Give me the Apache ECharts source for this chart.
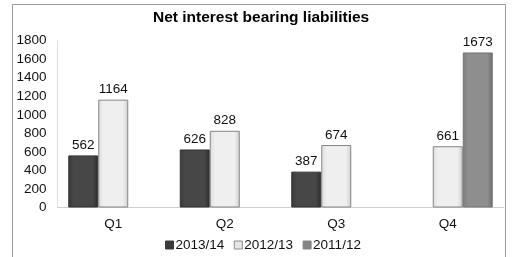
<!DOCTYPE html>
<html><head><meta charset="utf-8">
<script src="https://cdn.jsdelivr.net/npm/echarts@6/dist/echarts.min.js"></script>
<style>html,body{margin:0;padding:0;background:#fff}#c{width:512px;height:257px}</style>
</head><body><div id="c"></div>
<script>
const categories = ['Q1', 'Q2', 'Q3', 'Q4'];
const s2013 = [562, 626, 387, null];
const s2012 = [1164, 828, 674, 661];
const s2011 = [null, null, null, 1673];
const seriesNames = ['2013/14', '2012/13', '2011/12'];
const yTicks = [0, 200, 400, 600, 800, 1000, 1200, 1400, 1600, 1800];

function grad(edge, mid, edge2) {
  return new echarts.graphic.LinearGradient(0, 0, 1, 0, [
    {offset: 0, color: edge}, {offset: 0.18, color: mid}, {offset: 0.82, color: mid}, {offset: 1, color: edge2}
  ]);
}
const styles = [
  {color: grad('#3a3a3a', '#474747', '#2c2c2c'), borderColor: '#333333'},
  {color: grad('#dcdcdc', '#efefef', '#cfcfcf'), borderColor: '#858585'},
  {color: grad('#7e7e7e', '#8e8e8e', '#6e6e6e'), borderColor: '#767676'}
];
const legendColors = ['#3a3a3a', '#e6e6e6', '#858585'];
const font = 'Liberation Sans, Arial, sans-serif';
const data = [s2013, s2012, s2011];

const chart = echarts.init(document.getElementById('c'), null, {renderer: 'canvas'});
chart.setOption({
  animation: false,
  backgroundColor: '#fff',
  textStyle: {fontFamily: font},
  graphic: [{
    type: 'rect', shape: {x: 12.5, y: 4.5, width: 493, height: 270},
    style: {fill: 'none', stroke: '#9a9a9a', lineWidth: 1}, z: -1
  }],
  title: {
    text: 'Net interest bearing liabilities',
    left: 153, top: 10, padding: 0,
    textStyle: {fontFamily: font, fontSize: 15.5, fontWeight: 'bold', color: '#000'}
  },
  legend: {
    data: seriesNames.map((n, i) => ({name: n, itemStyle: {color: legendColors[i], borderColor: i === 1 ? '#8c8c8c' : legendColors[i], borderWidth: 1}})),
    left: 165, top: 238, padding: 0,
    itemWidth: 8, itemHeight: 8, itemGap: 9.5,
    icon: 'rect',
    textStyle: {fontFamily: font, fontSize: 13.5, color: '#111', padding: [0, 0, 0, -3]}
  },
  grid: {left: 57.5, right: 8.5, top: 40.7, bottom: 49.5, containLabel: false},
  xAxis: {
    type: 'category', data: categories,
    axisLine: {lineStyle: {color: '#d0d0d0'}},
    axisTick: {show: false},
    axisLabel: {fontFamily: font, fontSize: 13.5, color: '#111', margin: 10}
  },
  yAxis: {
    type: 'value', min: 0, max: 1800, interval: 200,
    axisLine: {show: true, lineStyle: {color: '#e0e0e0'}},
    axisTick: {show: false},
    splitLine: {show: false},
    axisLabel: {fontFamily: font, fontSize: 13.5, color: '#111', margin: 11,
      formatter: v => yTicks.includes(v) ? String(v) : ''}
  },
  series: seriesNames.map((n, i) => ({
    name: n, type: 'bar', data: data[i],
    barWidth: 30, barGap: '0%',
    itemStyle: {color: styles[i].color, borderColor: styles[i].borderColor, borderWidth: 1},
    label: {show: true, position: 'top', distance: 3, fontFamily: font, fontSize: 13.5, color: '#111'}
  }))
});
</script></body></html>
